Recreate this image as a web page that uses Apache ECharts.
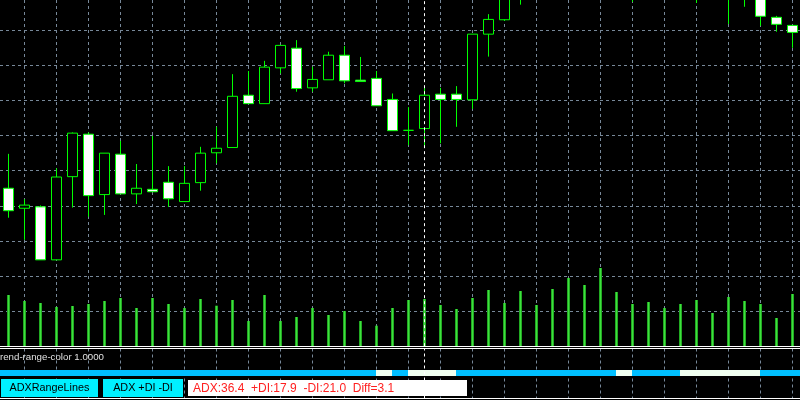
<!DOCTYPE html>
<html><head><meta charset="utf-8">
<script src="https://cdn.jsdelivr.net/npm/echarts@6/dist/echarts.min.js"></script>
<style>html,body{margin:0;padding:0;background:#000;}#c{width:800px;height:400px;}</style>
</head><body><div id="c"></div>
<script>
// ---- data ----
const categories = Array.from({length: 50}, (_, i) => 'Bar ' + (i + 1));
const opens  = [45.0, 39.3, 39.7, 24.6, 48.3, 60.4, 43.2, 54.7, 43.4, 44.7,
                46.7, 41.2, 46.6, 55.1, 56.6, 71.5, 69.1, 79.3, 84.9, 73.6,
                75.9, 82.9, 75.8, 76.3, 70.3, 61.5, 62.0, 71.8, 71.8, 70.2,
                88.9, 93.0, 102, 106, 110, 108, 112, 115, 113, 116,
                112, 114, 111, 109, 106, 108, 103, 101, 93.7, 91.4];
const closes = [38.6, 40.2, 24.6, 48.2, 60.7, 42.9, 55.0, 43.4, 45.0, 44.0,
                42.0, 46.4, 55.0, 56.4, 71.2, 69.1, 79.5, 85.7, 73.4, 76.0,
                82.9, 75.6, 75.4, 68.5, 61.4, 61.5, 71.5, 70.3, 70.3, 88.9,
                93.1, 103.5, 106, 110, 108, 112, 115, 113, 116, 112,
                114, 111, 109, 106, 108, 103, 101, 94.0, 91.7, 89.4];
const lows   = [36.6, 30.3, 24.6, 24.6, 39.5, 36.9, 37.4, 43.4, 40.5, 44.0,
                39.7, 41.2, 44.3, 52.1, 56.6, 69.1, 69.1, 77.7, 72.5, 72.5,
                75.9, 74.9, 75.4, 68.5, 61.4, 57.3, 56.5, 57.8, 62.5, 67.6,
                82.5, 92.7, 97.3, 103, 105, 106, 109, 110, 111, 98.1,
                108, 107, 104, 97.8, 103, 91.8, 96.7, 91.3, 89.6, 85.0];
const highs  = [54.8, 41.9, 40.1, 50.7, 60.9, 60.9, 55.0, 58.5, 51.9, 59.9,
                51.3, 51.3, 56.8, 62.5, 77.5, 78.4, 81.3, 85.7, 87.2, 79.6,
                83.9, 85.5, 82.4, 78.4, 72.0, 68.1, 73.8, 73.6, 74.1, 88.9,
                94.6, 106, 108, 112, 113, 114, 117, 118, 119, 118,
                116, 115, 113, 111, 110, 109, 105, 102, 94.1, 91.4];
const volumes = [510, 450, 430, 390, 400, 420, 450, 480, 380, 480,
                 420, 380, 470, 403, 460, 250, 510, 250, 290, 380,
                 310, 350, 250, 203, 380, 460, 470, 410, 370, 480,
                 560, 430, 550, 410, 570, 680, 610, 780, 540, 420,
                 440, 380, 420, 460, 330, 490, 450, 420, 280, 520];
const priceMin = 0, priceMax = 98.63, priceStep = 10;
const cursorBar = 26;
// trend / range state of the ADXRangeLines sub-window (segments in bar units)
const segStart = [-1, 23, 24, 25, 28, 38, 39, 42, 47];
const segEnd   = [23, 24, 25, 28, 38, 39, 42, 47, 50];
const segState = ['trend', 'range', 'trend', 'range', 'trend', 'range', 'trend', 'range', 'trend'];
const stateColors = {trend: '#00bfff', range: '#f0fff0'};
const subLabel = 'rend-range-color 1.0000';
const button1 = 'ADXRangeLines';
const button2 = 'ADX +DI -DI';
const adxText = 'ADX:36.4  +DI:17.9  -DI:21.0  Diff=3.1';

// ---- chart ----
const gridColor = '#778899';
const dashed = {color: gridColor, type: [3, 3], width: 1};
const FONT = '"Liberation Sans", Arial, sans-serif';
const candles = categories.map((_, i) => [opens[i], closes[i], lows[i], highs[i]]);
const segData = segStart.map((s, i) => [s, segEnd[i], i]);
const oddIdx = (idx) => idx % 2 === 1;
const hidden = {axisLine: {show: false}, axisTick: {show: false}, axisLabel: {show: false}};
const volColor = new echarts.graphic.LinearGradient(0, 0, 1, 0, [
  {offset: 0, color: '#138f13'}, {offset: 0.5, color: '#3fe03f'}, {offset: 1, color: '#138f13'}
]);

const chart = echarts.init(document.getElementById('c'), null, {renderer: 'canvas'});
chart.setOption({
  backgroundColor: '#000000',
  animation: false,
  grid: [
    {left: 8.5, right: 7.5, top: 0, height: 346.2},    // 0 candles
    {left: 0, right: 0, top: 0, height: 346.2},        // 1 full-width horizontal grid
    {left: 8.5, right: 7.5, top: 246, height: 100},    // 2 volumes
    {left: 0, right: 0, top: 348.5, height: 50},       // 3 sub-window frame
    {left: 8.5, right: 7.5, top: 348.5, height: 50},   // 4 sub-window vertical grid
    {left: 0, right: 0, top: 370, height: 6}           // 5 trend/range bar
  ],
  xAxis: [
    Object.assign({type: 'category', gridIndex: 0, data: categories, boundaryGap: false,
      splitLine: {show: true, interval: oddIdx, lineStyle: dashed}}, hidden),
    {type: 'value', gridIndex: 1, min: 0, max: 1, axisLine: {show: true, onZero: false, lineStyle: {color: '#ffffff', width: 1}},
      axisTick: {show: false}, axisLabel: {show: false}, splitLine: {show: false}},
    Object.assign({type: 'category', gridIndex: 2, data: categories, boundaryGap: false, splitLine: {show: false}}, hidden),
    {type: 'value', gridIndex: 3, position: 'top', min: 0, max: 1, axisLine: {show: true, onZero: false, lineStyle: {color: '#ffffff', width: 1}},
      axisTick: {show: false}, axisLabel: {show: false}, splitLine: {show: false}},
    Object.assign({type: 'category', gridIndex: 4, data: categories, boundaryGap: false,
      splitLine: {show: true, interval: oddIdx, lineStyle: dashed}}, hidden),
    Object.assign({type: 'value', gridIndex: 5, min: -0.5, max: 49.5, splitLine: {show: false}}, hidden),
    {type: 'value', gridIndex: 3, position: 'bottom', min: 0, max: 1, axisLine: {show: true, onZero: false, lineStyle: {color: '#ffffff', width: 1}},
      axisTick: {show: false}, axisLabel: {show: false}, splitLine: {show: false}}
  ],
  yAxis: [
    Object.assign({type: 'value', gridIndex: 0, min: priceMin, max: priceMax, interval: priceStep, splitLine: {show: false}}, hidden),
    Object.assign({type: 'value', gridIndex: 1, min: priceMin, max: priceMax, interval: priceStep,
      splitLine: {show: true, showMaxLine: false, lineStyle: dashed}}, hidden),
    Object.assign({type: 'value', gridIndex: 2, min: 0, max: 1000, splitLine: {show: false}}, hidden),
    Object.assign({type: 'value', gridIndex: 3, min: 0, max: 1, splitLine: {show: false}}, hidden),
    Object.assign({type: 'value', gridIndex: 4, min: 0, max: 1, splitLine: {show: false}}, hidden),
    Object.assign({type: 'value', gridIndex: 5, min: 0, max: 1, splitLine: {show: false}}, hidden)
  ],
  series: [
    {
      type: 'candlestick', xAxisIndex: 0, yAxisIndex: 0, data: candles, barWidth: 10, clip: true, z: 3,
      itemStyle: {color: '#000000', color0: '#ffffff', borderColor: '#00ff00', borderColor0: '#00ff00',
                  borderColorDoji: '#00ff00', borderWidth: 1},
      markLine: {silent: true, symbol: ['none', 'none'], label: {show: false},
                 lineStyle: {color: '#ffffff', type: [3, 3], width: 1},
                 data: [{xAxis: categories[cursorBar]}]}
    },
    {
      type: 'bar', xAxisIndex: 2, yAxisIndex: 2, data: volumes, barWidth: 3, z: 2,
      itemStyle: {color: volColor}
    },
    {
      type: 'line', xAxisIndex: 4, yAxisIndex: 4, data: categories.map(() => null), symbol: 'none',
      lineStyle: {width: 0},
      markLine: {silent: true, symbol: ['none', 'none'], label: {show: false},
                 lineStyle: {color: '#ffffff', type: [3, 3], width: 1},
                 data: [{xAxis: categories[cursorBar]}]}
    },
    {
      type: 'custom', xAxisIndex: 5, yAxisIndex: 5, data: segData, clip: true, z: 4,
      encode: {x: [0, 1]},
      renderItem: (params, api) => {
        const p0 = api.coord([api.value(0), 1]);
        const p1 = api.coord([api.value(1), 0]);
        return {type: 'rect', shape: {x: p0[0], y: p0[1], width: p1[0] - p0[0], height: p1[1] - p0[1]},
                style: {fill: stateColors[segState[params.dataIndex]]}};
      }
    }
  ],
  graphic: [
    {type: 'text', x: 0, y: 357, z: 10, style: {text: subLabel, fill: '#e0e0e0', font: '9.7px ' + FONT, verticalAlign: 'middle'}},
    {type: 'rect', z: 10, shape: {x: 1, y: 379, width: 97, height: 18}, style: {fill: '#00f0ff'}},
    {type: 'text', z: 11, x: 49.5, y: 388.5, style: {text: button1, fill: '#000000', font: '10.8px ' + FONT, align: 'center', verticalAlign: 'middle'}},
    {type: 'rect', z: 10, shape: {x: 103, y: 379, width: 80, height: 18}, style: {fill: '#00f0ff'}},
    {type: 'text', z: 11, x: 143, y: 388.5, style: {text: button2, fill: '#000000', font: '10.8px ' + FONT, align: 'center', verticalAlign: 'middle'}},
    {type: 'rect', z: 10, shape: {x: 188, y: 380, width: 279, height: 16}, style: {fill: '#ffffff'}},
    {type: 'text', z: 11, x: 193, y: 388.5, style: {text: adxText, fill: '#ff2020', font: '12px ' + FONT, verticalAlign: 'middle'}}
  ]
});
</script></body></html>
